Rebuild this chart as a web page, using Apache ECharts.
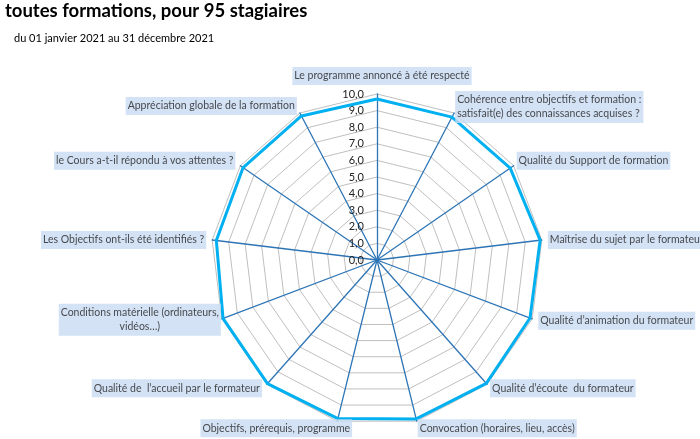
<!DOCTYPE html>
<html>
<head>
<meta charset="utf-8">
<script src="https://cdn.jsdelivr.net/npm/echarts@6/dist/echarts.min.js"></script>
<style>
  html, body { margin: 0; padding: 0; background: #fff; }
  #chart { width: 700px; height: 439px; }
</style>
</head>
<body>
<div id="chart"></div>
<script>
// critères, dans l'ordre du graphique (sens horaire depuis le haut)
var criteres = [
    'Le programme annoncé à été respecté',
    'Cohérence entre objectifs et formation :\nsatisfait(e) des connaissances acquises ?',
    'Qualité du Support de formation',
    'Maîtrise du sujet par le formateur',
    'Qualité d\u2019animation du formateur',
    'Qualité d\u2019écoute  du formateur',
    'Convocation (horaires, lieu, accès)',
    'Objectifs, prérequis, programme',
    'Qualité de  l\u2019accueil par le formateur',
    'Conditions matérielle (ordinateurs,\nvidéos\u2026)',
    'Les Objectifs ont-ils été identifiés ?',
    'le Cours a-t-il répondu à vos attentes ?',
    'Appréciation globale de la formation'
];
var notes = [9.7, 9.72, 9.75, 9.9, 9.86, 9.93, 9.86, 9.84, 9.95, 9.92, 9.75, 9.8, 9.8];
var graduations = [0, 1, 2, 3, 4, 5, 6, 7, 8, 9, 10];

// placement des étiquettes autour du radar
var placeEtiquettes = [
    { position: 'top', distance: 9, offset: [5, 0] },
    { position: 'right', distance: 1, offset: [0, -6] },
    { position: 'right', distance: 3, offset: [0, -5] },
    { position: 'right', distance: 6, offset: [0, 0] },
    { position: 'right', distance: 6, offset: [0, 2] },
    { position: 'right', distance: 3, offset: [0, 4] },
    { position: 'right', distance: 1, offset: [0, 7] },
    { position: 'inside', align: 'center', offset: [-61, 7] },
    { position: 'left', distance: 5, offset: [0, 4] },
    { position: 'inside', align: 'center', offset: [-82, 1] },
    { position: 'left', distance: 6, offset: [0, 0] },
    { position: 'left', distance: 5, offset: [0, -5] },
    { position: 'left', distance: 3, offset: [0, -7] }
];

(function(){
    var myChart = echarts.init(document.getElementById('chart'));

    // echarts place les indicateurs du radar dans le sens anti-horaire : on inverse
    var ordre = [0];
    for (var i = criteres.length - 1; i > 0; i--) ordre.push(i);

    var indicator = ordre.map(function (i) {
        return { name: criteres[i], min: 0, max: 10 };
    });
    var valeurs = ordre.map(function (i) { return notes[i]; });

    var etiquettes = criteres.map(function (c, i) {
        return {
            value: [10, i],
            name: c,
            label: placeEtiquettes[i]
        };
    });

    var centre = [377, 260];
    var rayon = 166;

    var option = {
        animation: false,
        textStyle: { fontFamily: 'Lato' },
        title: [
            {
                text: 'toutes formations, pour 95 stagiaires',
                left: 0, top: 0, padding: [2, 5],
                textStyle: { fontFamily: 'Lato', fontSize: 18.5, fontWeight: 'bold', color: '#000' }
            },
            {
                text: 'du 01 janvier 2021 au 31 décembre 2021',
                left: 9, top: 28,
                textStyle: { fontFamily: 'Lato', fontSize: 11, fontWeight: 'normal', color: '#000' }
            }
        ],
        radar: {
            center: centre,
            radius: rayon,
            startAngle: 90,
            splitNumber: 10,
            shape: 'polygon',
            indicator: indicator,
            axisName: { show: false },
            axisLine: { lineStyle: { color: '#2e75b6', width: 1.3 } },
            splitLine: { lineStyle: { color: '#bfbfbf', width: 1 } },
            splitArea: { show: false },
            axisTick: { show: false },
            axisLabel: { show: false }
        },
        polar: [
            { center: centre, radius: rayon },
            { center: centre, radius: rayon }
        ],
        angleAxis: [
            {
                polarIndex: 0,
                type: 'value', startAngle: 90, min: 0, max: 360,
                show: false
            },
            {
                polarIndex: 1,
                type: 'category', data: criteres,
                startAngle: 90 + 360 / (criteres.length * 2),
                show: false
            }
        ],
        radiusAxis: [
            {
                polarIndex: 0,
                type: 'value', min: 0, max: 10, interval: 1,
                axisLine: { show: false },
                axisTick: { show: false },
                splitLine: { show: false },
                axisLabel: {
                    fontSize: 11, color: '#222', fontFamily: 'Lato', margin: 13,
                    customValues: graduations,
                    formatter: function (v) { return v.toFixed(1).replace('.', ','); }
                }
            },
            {
                polarIndex: 1,
                type: 'value', min: 0, max: 10,
                show: false
            }
        ],
        series: [
            {
                name: 'Moyenne',
                type: 'radar',
                symbol: 'none',
                lineStyle: { color: '#00b0f0', width: 3 },
                data: [{ value: valeurs }]
            },
            {
                type: 'line',
                coordinateSystem: 'polar',
                polarIndex: 0,
                data: [],
                silent: true
            },
            {
                name: 'Critères',
                type: 'scatter',
                coordinateSystem: 'polar',
                polarIndex: 1,
                symbolSize: 0,
                silent: true,
                z: 5,
                label: {
                    show: true,
                    formatter: '{b}',
                    color: '#222',
                    fontSize: 10.5,
                    fontFamily: 'Lato',
                    lineHeight: 14,
                    backgroundColor: '#c9dbf3',
                    padding: [2, 2]
                },
                data: etiquettes
            }
        ]
    };
    myChart.setOption(option);
})();
</script>
</body>
</html>
